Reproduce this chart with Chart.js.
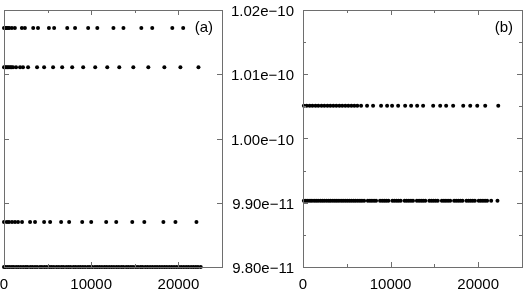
<!DOCTYPE html>
<html>
<head>
<meta charset="utf-8">
<script src="https://cdn.jsdelivr.net/npm/chart.js@4"></script>
<style>
  body { margin: 0; background: #fff; }
  #wrapA { position: absolute; left: 0; top: 0; width: 230px; height: 299px; }
  #wrapB { position: absolute; left: 215px; top: 0; width: 316px; height: 299px; }
</style>
</head>
<body>
<div id="wrapA"><canvas id="chartA" width="230" height="299"></canvas></div>
<div id="wrapB"><canvas id="chartB" width="316" height="299"></canvas></div>
<script>
// Panel (a): four rows of points, each at its own level
const aLevels = [3.72, 3.11, 0.70, 0];
const aRow1 = [0, 150, 300, 450, 600, 900, 1250, 2050, 2400, 3350, 3900, 5150, 5750, 7250, 8150,
  9650, 10700, 12550, 13700, 15750, 17000, 19300, 20550];
const aRow2 = [0, 120, 250, 400, 550, 700, 850, 1030, 1380, 1840, 2180, 2760, 3790, 4600, 5630, 6670,
  7820, 9080, 10460, 11840, 13220, 14830, 16550, 18390, 20230, 22300];
const aRow3 = [0, 340, 570, 920, 1260, 1610, 2070, 2990, 3560, 4600, 5290, 6550, 7470, 8970, 10000,
  11720, 12870, 14710, 16090, 18280, 19660, 22070];
const aRow4 = [0, 180, 420, 650, 900, 1120, 1400, 1650, 1930, 2200, 2480, 2700, 3010, 3260, 3550, 3800,
  4120, 4350, 4640, 4900, 5210, 5460, 5720, 6030, 6290, 6580, 6820, 7130, 7390, 7650, 7960, 8220, 8500,
  8760, 9040, 9300, 9610, 9850, 10120, 10430, 10680, 10960, 11230, 11520, 11780, 12060, 12340, 12610,
  12900, 13170, 13450, 13700, 14010, 14260, 14550, 14800, 15110, 15370, 15660, 15900, 16200, 16470,
  16750, 17020, 17310, 17560, 17850, 18120, 18400, 18670, 18950, 19230, 19500, 19780, 20060, 20330,
  20610, 20890, 21160, 21450, 21720, 22000, 22250, 22560];
const aRows = [aRow1, aRow2, aRow3, aRow4];

// Panel (b): two rows of points
const bLevels = [1.0051e-10, 9.903e-11];
const bRow1 = [100, 420, 760, 1080, 1430, 1750, 2110, 2440, 2790, 3120, 3460, 3800, 4150, 4480, 4830,
  5170, 5520, 5860, 6200, 6630, 7310, 8000, 8910, 9600, 10170, 10860, 11660, 12340, 13030, 13710,
  14860, 15660, 16340, 17140, 18290, 19090, 19890, 20800, 22290];
const bRow2 = [100, 330, 560, 800, 1020, 1270, 1500, 1730, 1980, 2210, 2440, 2690, 2930, 3150, 3400,
  3640, 3870, 4100, 4350, 4580, 4820, 5060, 5300, 5540, 5780, 6010, 6260, 6500, 6730, 6980, 7400,
  7640, 7870, 8110, 8340, 8800, 9050, 9280, 9510, 9750, 10200, 10440, 10680, 10910, 11150, 11600,
  11840, 12080, 12320, 12560, 13000, 13250, 13490, 13720, 13960, 14420, 14660, 14900, 15140, 15380,
  15850, 16090, 16320, 16560, 16800, 17250, 17490, 17730, 17970, 18210, 18660, 18900, 19140, 19380,
  19620, 20060, 20300, 20540, 20780, 21020, 21480, 22200];
const bRows = [bRow1, bRow2];

// axis ticks
const xMax = 25000;
const xTicksMajor = [0, 10000, 20000];
const xTicksMinor = [5000, 15000];
const aYTicks = [0, 1, 2, 3, 4];
const bYTicks = [9.80e-11, 9.90e-11, 1.00e-10, 1.01e-10, 1.02e-10];
const bYMinor = [9.85e-11, 9.95e-11, 1.005e-10, 1.015e-10];

const FONT = "'Liberation Sans', Arial, sans-serif";
const frameColor = '#6e6e6e';

// box around the plot with inward ticks on all four sides
const framePlugin = {
  id: 'frame',
  afterDraw(chart, args, opts) {
    const ctx = chart.ctx;
    const a = chart.chartArea;
    const xs = chart.scales.x, ys = chart.scales.y;
    ctx.save();
    ctx.strokeStyle = frameColor;
    ctx.lineWidth = 1;
    ctx.strokeRect(Math.round(a.left) + 0.5, Math.round(a.top) + 0.5,
      Math.round(a.right - a.left), Math.round(a.bottom - a.top));
    ctx.beginPath();
    const xt = (vals, len) => vals.forEach(v => {
      const p = Math.round(xs.getPixelForValue(v)) + 0.5;
      ctx.moveTo(p, a.bottom); ctx.lineTo(p, a.bottom - len);
      ctx.moveTo(p, a.top); ctx.lineTo(p, a.top + len);
    });
    const yt = (vals, len) => vals.forEach(v => {
      const p = Math.round(ys.getPixelForValue(v)) + 0.5;
      ctx.moveTo(a.left, p); ctx.lineTo(a.left + len, p);
      ctx.moveTo(a.right, p); ctx.lineTo(a.right - len, p);
    });
    xt(xTicksMajor, 5);
    xt(xTicksMinor, 3);
    yt(opts.yMajor || [], 5);
    yt(opts.yMinor || [], 3);
    ctx.stroke();
    ctx.fillStyle = '#000';
    ctx.font = '15px ' + FONT;
    ctx.textAlign = 'right';
    ctx.textBaseline = 'middle';
    ctx.fillText(opts.label, a.right - 9, a.top + 18);
    ctx.restore();
  }
};

function makeDatasets(rows, levels) {
  return rows.map((xsArr, i) => ({
    data: xsArr.map(x => ({ x: x, y: levels[i] })),
    backgroundColor: '#000',
    borderColor: '#000',
    pointRadius: 2,
    pointBorderWidth: 0,
    showLine: false,
    clip: false
  }));
}

function xScale() {
  return {
    type: 'linear',
    min: 0,
    max: xMax,
    afterBuildTicks: s => { s.ticks = xTicksMajor.map(v => ({ value: v })); },
    afterFit: s => { s.height = 32; s.paddingLeft = 0; s.paddingRight = 0; },
    grid: { display: false, drawTicks: false },
    border: { display: false },
    ticks: {
      color: '#000', padding: 9, maxRotation: 0,
      font: { family: FONT, size: 15 },
      callback: v => String(v)
    }
  };
}

new Chart(document.getElementById('chartA'), {
  type: 'scatter',
  data: { datasets: makeDatasets(aRows, aLevels) },
  options: {
    responsive: false,
    animation: false,
    layout: { padding: { left: 4, right: 8, top: 10, bottom: 0 } },
    plugins: {
      legend: { display: false },
      tooltip: { enabled: false },
      frame: { yMajor: aYTicks, yMinor: [], label: '(a)' }
    },
    scales: {
      x: xScale(),
      y: { type: 'linear', min: 0, max: 4, display: false }
    }
  },
  plugins: [framePlugin]
});

new Chart(document.getElementById('chartB'), {
  type: 'scatter',
  data: { datasets: makeDatasets(bRows, bLevels) },
  options: {
    responsive: false,
    animation: false,
    layout: { padding: { left: 0, right: 9, top: 10, bottom: 0 } },
    plugins: {
      legend: { display: false },
      tooltip: { enabled: false },
      frame: { yMajor: bYTicks, yMinor: bYMinor, label: '(b)' }
    },
    scales: {
      x: xScale(),
      y: {
        type: 'linear',
        min: 9.80e-11,
        max: 1.02e-10,
        afterBuildTicks: s => { s.ticks = bYTicks.map(v => ({ value: v })); },
        afterFit: s => { s.width = 88; s.paddingTop = 0; s.paddingBottom = 0; },
        grid: { display: false, drawTicks: false },
        border: { display: false },
        ticks: {
          color: '#000',
          padding: 9,
          labelOffset: 2,
          font: { family: FONT, size: 15 },
          callback: v => Number(v).toExponential(2).replace('-', '\u2212')
        }
      }
    }
  },
  plugins: [framePlugin]
});
</script>
</body>
</html>
